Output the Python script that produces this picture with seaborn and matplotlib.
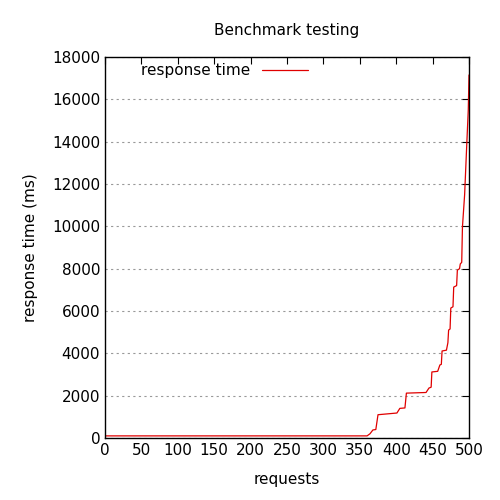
import matplotlib
matplotlib.use("Agg")
import matplotlib.pyplot as plt
import seaborn as sns
import pandas as pd

requests = [0, 360, 364, 368, 372, 375, 401, 405, 412, 414, 441, 445, 448, 449, 457, 460, 462, 463, 469, 471, 472, 474, 475, 478, 479, 483, 484, 487, 488, 490, 491, 494, 497, 499, 500]
response = [100, 100, 200, 380, 400, 1100, 1180, 1400, 1420, 2120, 2150, 2360, 2400, 3120, 3150, 3450, 3480, 4110, 4150, 4500, 5100, 5150, 6140, 6200, 7130, 7200, 7930, 8000, 8220, 8300, 9970, 11500, 13930, 15500, 17150]

df = pd.DataFrame({"requests": requests, "response": response})

sns.set_style("white")
plt.rcParams["text.color"] = "black"
plt.rcParams["axes.labelcolor"] = "black"
fig, ax = plt.subplots(figsize=(5, 5), dpi=100)
fig.subplots_adjust(left=0.21, right=0.938, top=0.886, bottom=0.124)
sns.lineplot(data=df, x="requests", y="response", color="#e00000", lw=0.9, ax=ax, label="response time")
ax.set_xlim(0, 500)
ax.set_ylim(0, 18000)
ax.set_xticks(range(0, 501, 50))
ax.set_yticks(range(0, 18001, 2000))
ax.yaxis.grid(True, ls=(0, (2, 3)), color="#999999", lw=0.8)
for s in ax.spines.values():
    s.set_color("black"); s.set_linewidth(1)
ax.tick_params(direction="in", length=5, labelsize=11, top=True, right=True, colors="black")
ax.set_xlabel("requests", fontsize=11, labelpad=10, color="black")
ax.set_ylabel("response time (ms)", fontsize=11, labelpad=10, color="black")
ax.set_title("Benchmark testing", fontsize=11, pad=16, color="black")
leg = ax.legend(loc="upper left", frameon=False, fontsize=11, markerfirst=False, handlelength=3, bbox_to_anchor=(0.06, 1.02))
for t in leg.get_texts():
    t.set_color("black")
fig.savefig("out.png")
